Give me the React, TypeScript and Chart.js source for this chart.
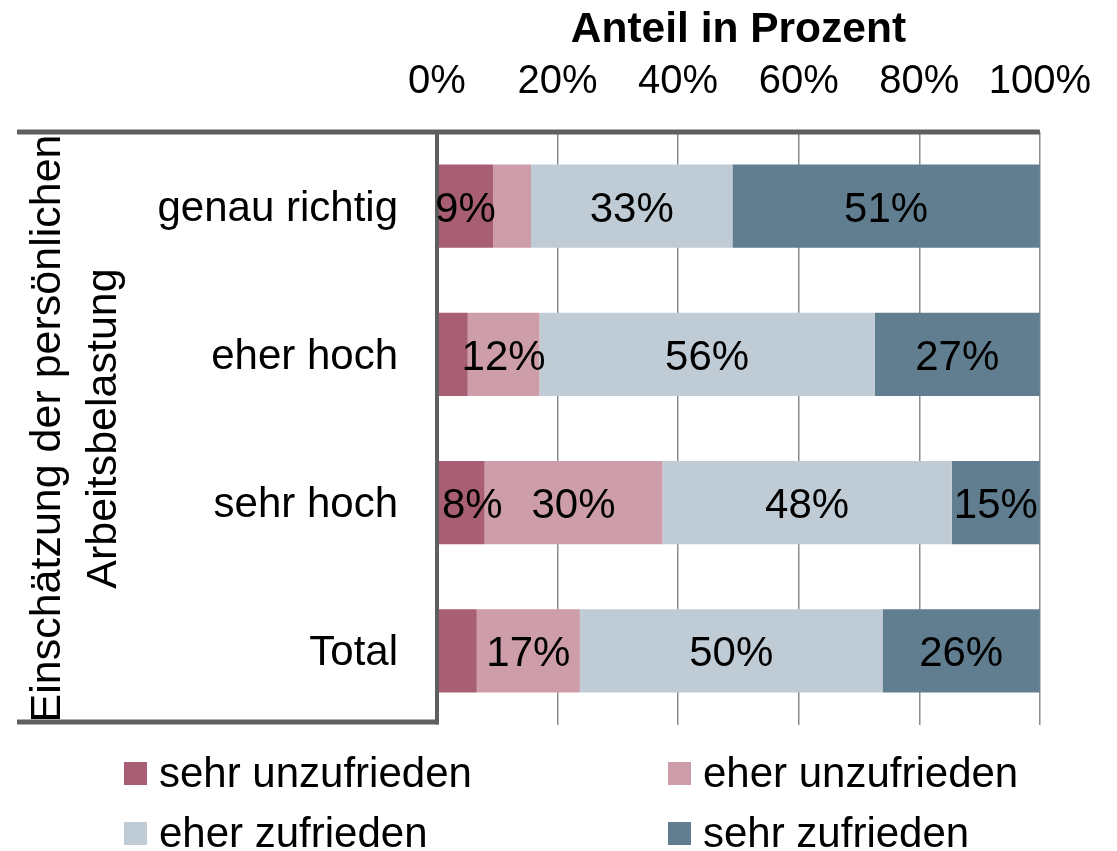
import React, { useEffect, useRef } from "react";
import { Chart, registerables } from "chart.js";

Chart.register(...registerables);

const categories = ["genau richtig", "eher hoch", "sehr hoch", "Total"];
const seriesNames = ["sehr unzufrieden", "eher unzufrieden", "eher zufrieden", "sehr zufrieden"];
const sehrUnzufrieden = [9.3, 5.1, 7.9, 6.6];
const eherUnzufrieden = [6.3, 11.9, 29.5, 17.1];
const eherZufrieden = [33.4, 55.6, 48.0, 50.2];
const sehrZufrieden = [51.0, 27.4, 14.6, 26.1];
const seriesColors = ["#A85E73", "#CD9EAA", "#BFCCD5", "#607E90"];
const xTitle = "Anteil in Prozent";
const yTitle = ["Einschätzung der persönlichen", "Arbeitsbelastung"];
const labelThreshold = 7.5;

const FONT = "'Liberation Sans', Arial, sans-serif";

const frameAndLabels = {
  id: "frameAndLabels",
  afterDraw(chart: any) {
    const ctx = chart.ctx;
    const a = chart.chartArea;
    const left0 = 17;
    ctx.save();
    ctx.strokeStyle = "#5f5f5f";
    ctx.lineCap = "butt";
    ctx.lineWidth = 5;
    ctx.beginPath();
    ctx.moveTo(left0, a.top);
    ctx.lineTo(a.right, a.top);
    ctx.stroke();
    ctx.lineWidth = 4;
    ctx.beginPath();
    ctx.moveTo(a.left, a.top);
    ctx.lineTo(a.left, a.bottom - 2);
    ctx.stroke();
    ctx.lineWidth = 5;
    ctx.beginPath();
    ctx.moveTo(left0, a.bottom - 3);
    ctx.lineTo(a.left + 2, a.bottom - 3);
    ctx.stroke();

    ctx.font = `42px ${FONT}`;
    ctx.fillStyle = "#000";
    ctx.textAlign = "center";
    ctx.textBaseline = "middle";
    chart.data.datasets.forEach((ds: any, di: number) => {
      const meta = chart.getDatasetMeta(di);
      meta.data.forEach((el: any, i: number) => {
        const v = ds.data[i];
        if (v >= labelThreshold) {
          const txt = Math.round(v) + "%";
          const w = ctx.measureText(txt).width;
          let cx = (el.x + el.base) / 2;
          if (cx - w / 2 < a.left - 3) cx = a.left + 5 + w / 2;
          ctx.fillText(txt, cx, el.y + 4);
        }
      });
    });

    const cols = [124, 668];
    const rows = [773, 833];
    ctx.font = `42px ${FONT}`;
    ctx.textAlign = "left";
    ctx.textBaseline = "middle";
    chart.data.datasets.forEach((ds: any, i: number) => {
      const x = cols[i % 2];
      const y = rows[Math.floor(i / 2)];
      ctx.fillStyle = ds.backgroundColor;
      ctx.fillRect(x, y - 11, 23, 23);
      ctx.fillStyle = "#000";
      ctx.fillText(ds.label, x + 35, y + 2);
    });
    ctx.restore();
  },
};

export default function App() {
  const ref = useRef<HTMLCanvasElement>(null);
  useEffect(() => {
    if (!ref.current) return;
    const values = [sehrUnzufrieden, eherUnzufrieden, eherZufrieden, sehrZufrieden];
    const chart = new Chart(ref.current, {
      type: "bar",
      data: {
        labels: categories,
        datasets: values.map((d, i) => ({
          label: seriesNames[i],
          data: d,
          backgroundColor: seriesColors[i],
          borderWidth: 0,
          categoryPercentage: 1,
          barPercentage: 0.56,
        })),
      },
      options: {
        indexAxis: "y",
        animation: false,
        responsive: true,
        maintainAspectRatio: false,
        layout: { padding: { left: 17, right: 72, top: 0, bottom: 126 } },
        plugins: {
          legend: { display: false },
          tooltip: { enabled: false },
        },
        scales: {
          x: {
            position: "top",
            stacked: true,
            min: 0,
            max: 100,
            ticks: {
              stepSize: 20,
              callback: (v: any) => v + "%",
              font: { family: FONT, size: 40 },
              color: "#000",
              padding: 26,
              maxRotation: 0,
            },
            grid: { color: "#8c8c8c", lineWidth: 1.5, drawTicks: false },
            border: { display: false },
            title: {
              display: true,
              text: xTitle,
              font: { family: FONT, size: 42.5, weight: "bold" },
              color: "#000",
              padding: { top: 5, bottom: 0 },
            },
            afterFit: (s: any) => {
              s.height = 132;
            },
          },
          y: {
            stacked: true,
            ticks: {
              font: { family: FONT, size: 42 },
              color: "#000",
              padding: 39,
              labelOffset: 3,
            },
            grid: { display: false, drawTicks: false },
            border: { display: false },
            title: {
              display: true,
              text: yTitle,
              font: { family: FONT, size: 43, lineHeight: 1.3 },
              color: "#000",
              padding: { top: 3, bottom: 0 },
            },
            afterFit: (s: any) => {
              s.width = 420;
            },
          },
        },
      },
      plugins: [frameAndLabels],
    });
    return () => chart.destroy();
  }, []);
  return (
    <div style={{ position: "absolute", left: 0, top: 0, width: 1117, height: 851 }}>
      <canvas ref={ref} />
    </div>
  );
}
